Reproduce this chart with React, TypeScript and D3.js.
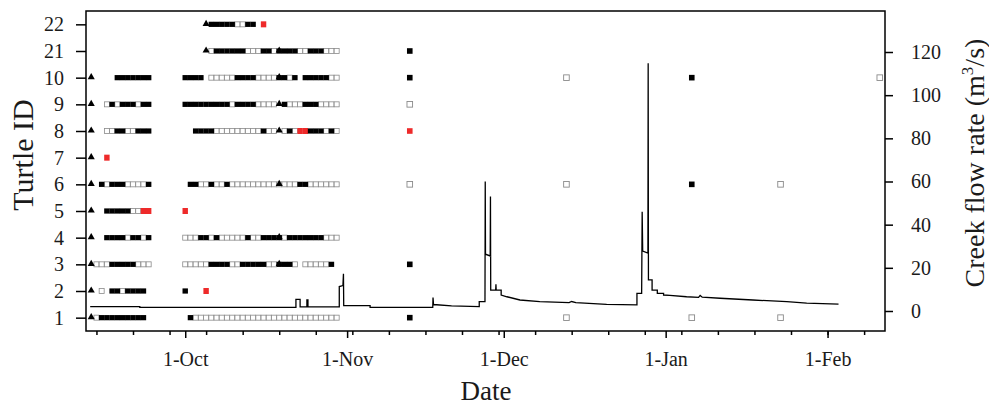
import React, { useEffect, useRef } from "react";
import * as d3 from "d3";

const startDate = new Date(2014, 8, 12);
const endDate = new Date(2015, 1, 12);

const turtleIds = ["1", "2", "3", "4", "5", "6", "7", "8", "9", "10", "21", "22"];

// daily detections 13-Sep .. 30-Oct, run-length coded ("9b" = nine days of b)
// b = detected (filled), o = not detected (open), r = red, . = no record
const dailyRuns = [
  "1. 1o 9b 8. 1b 28o",
  "2. 1o 1. 2b 1o 4b 7. 1b 3. 1r 25.",
  "1. 3o 5b 3o 6. 5o 4b 2o 5b 2o 1b 2b 1o 1. 5o 1b 1.",
  "3. 4b 1o 2b 1o 1b 6. 3o 2b 1o 1b 5o 1b 2o 3b 1b 1o 7b 3o",
  "3. 5b 2o 2r 6. 1r 29.",
  "2. 1b 1o 3b 4o 1b 7. 2b 2o 1b 2o 1b 9o 1o 3o 2b 6o",
  "3. 1r 44.",
  "3. 2o 2b 2o 3b 8. 4b 9o 1b 2o 1. 1o 1b 1o 2r 3b 1o 1b 1o",
  "3. 1o 1b 1o 3b 1o 2b 6. 9b 1o 4b 4o 1. 1b 3o 3b 4o",
  "5. 7b 6. 4b 1. 5o 4b 4o 1b 1b 1o 1b 1. 5b 2o",
  "23. 1o 6b 3o 2b 1o 1b 3b 2o 3b 3o",
  "23. 5b 2o 2b 1. 1r 14.",
];

// triangles: [turtle id, day offset from 12-Sep]
const triangleMarks: [string, number][] = [
  ["1", 1], ["2", 1], ["3", 1], ["4", 1], ["5", 1], ["6", 1], ["7", 1], ["8", 1], ["9", 1], ["10", 1],
  ["21", 23], ["22", 23],
  ["3", 37], ["4", 37], ["6", 37], ["8", 37], ["9", 37], ["10", 37], ["21", 37],
];

// later spot checks: [turtle id, day offset, kind]
const laterChecks: [string, number, string][] = [
  ["21", 62, "b"], ["10", 62, "b"], ["9", 62, "o"], ["8", 62, "r"], ["6", 62, "o"], ["3", 62, "b"], ["1", 62, "b"],
  ["10", 92, "o"], ["6", 92, "o"], ["1", 92, "o"],
  ["10", 116, "b"], ["6", 116, "b"], ["1", 116, "o"],
  ["6", 133, "o"], ["1", 133, "o"],
  ["10", 152, "o"],
];

// creek flow: [day offset from 12-Sep, m3/s]
const creekFlow: [number, number][] = [
  [0.8, 2.0], [10.3, 2.0], [10.3, 1.7], [40.2, 1.7], [40.2, 5.4], [41.0, 5.4], [41.0, 1.9],
  [42.3, 1.9], [42.3, 5.1], [42.5, 5.1], [42.5, 1.9], [48.5, 1.9], [48.5, 11.3], [49.2, 11.8],
  [49.3, 17.3], [49.35, 2.5], [54.4, 2.5], [54.4, 1.7], [66.4, 1.7], [66.45, 6.2], [66.55, 3.0],
  [70, 2.4], [75.3, 2.0], [75.3, 4.3], [76.4, 4.3], [76.45, 60], [76.5, 26.3], [77.4, 25.5],
  [77.45, 53], [77.5, 9.7], [78.45, 9.7], [78.5, 12.4], [78.55, 9.7], [79.5, 9.7], [79.5, 7.4],
  [80.6, 6.6], [83.1, 5.1], [86.9, 4.3], [92.5, 3.9], [93.0, 4.4], [93.8, 3.9], [99.7, 3.1],
  [105.5, 2.8], [105.5, 8.2], [106.4, 8.2], [106.5, 46], [106.6, 27.8], [107.6, 26.8],
  [107.65, 114.8], [107.7, 14.4], [108.4, 14.4], [108.4, 9.7], [109.4, 9.7], [109.4, 8.2],
  [110.6, 8.2], [110.6, 7.4], [111.8, 7.2], [115, 6.6], [117.3, 6.3], [117.6, 7.2], [118.0, 6.4],
  [121.4, 5.9], [127.7, 5.1], [134.2, 4.3], [138, 3.6], [144.1, 3.2],
];

const flowTicks = [0, 20, 40, 60, 80, 100, 120];

const W = 989;
const H = 407;
const margin = { top: 11, right: 104, bottom: 76, left: 86 };
const FONT = "'Liberation Serif', 'Times New Roman', serif";
const RED = "#ee2a2a";

const dayToDate = (d: number) => new Date(startDate.getTime() + d * 864e5);

// expand "3. 2o 4b" into ".. .oobbbb" style day list
function expandRuns(runs: string) {
  const out: string[] = [];
  runs.split(" ").forEach((r) => {
    const n = parseInt(r, 10);
    const c = r.slice(String(n).length);
    for (let k = 0; k < n; k++) out.push(c);
  });
  return out;
}

export default function App() {
  const svgRef = useRef<SVGSVGElement>(null);

  useEffect(() => {
    const svg = d3.select(svgRef.current);
    svg.selectAll("*").remove();

    const left = margin.left;
    const right = W - margin.right;
    const top = margin.top;
    const bottom = H - margin.bottom;

    const x = d3.scaleTime().domain([startDate, endDate]).range([left, right]);
    const yRow = d3.scaleLinear().domain([-0.5, turtleIds.length - 0.5]).range([bottom, top]);
    const yFlow = d3.scaleLinear().domain([-9.27, 139]).range([bottom, top]);
    const rowY = (id: string) => yRow(turtleIds.indexOf(id));

    const step = x(dayToDate(1)) - x(dayToDate(0));

    // flow line
    const line = d3
      .line<[number, number]>()
      .x((d) => x(dayToDate(d[0])))
      .y((d) => yFlow(d[1]));
    svg
      .append("path")
      .datum(creekFlow)
      .attr("d", line)
      .attr("fill", "none")
      .attr("stroke", "#000")
      .attr("stroke-width", 1.3);

    // daily squares
    const daily: { id: string; day: number; kind: string }[] = [];
    dailyRuns.forEach((p, i) => {
      expandRuns(p).forEach((c, j) => {
        if (c !== ".") daily.push({ id: turtleIds[i], day: j + 1, kind: c });
      });
    });

    const s = 5;
    svg
      .append("g")
      .selectAll("rect")
      .data(daily.filter((d) => d.kind === "o"))
      .join("rect")
      .attr("x", (d) => x(dayToDate(d.day)) - s / 2)
      .attr("y", (d) => rowY(d.id) - s / 2)
      .attr("width", s)
      .attr("height", s)
      .attr("fill", "#fff")
      .attr("stroke", "#8a8a8a")
      .attr("stroke-width", 0.8);

    svg
      .append("g")
      .selectAll("rect")
      .data(daily.filter((d) => d.kind !== "o"))
      .join("rect")
      .attr("x", (d) => x(dayToDate(d.day)) - step / 2 - 0.1)
      .attr("y", (d) => rowY(d.id) - (d.kind === "r" ? 3 : 2.6))
      .attr("width", step + 0.2)
      .attr("height", (d) => (d.kind === "r" ? 6 : 5.2))
      .attr("fill", (d) => (d.kind === "r" ? RED : "#000"));

    // later checks
    const ls = 5.6;
    svg
      .append("g")
      .selectAll("rect")
      .data(laterChecks)
      .join("rect")
      .attr("x", (d) => x(dayToDate(d[1])) - ls / 2)
      .attr("y", (d) => rowY(d[0]) - ls / 2)
      .attr("width", ls)
      .attr("height", ls)
      .attr("fill", (d) => (d[2] === "b" ? "#000" : d[2] === "r" ? RED : "#fff"))
      .attr("stroke", (d) => (d[2] === "o" ? "#8a8a8a" : "none"))
      .attr("stroke-width", 0.9);

    // triangles
    const tri = d3.symbol().type(d3.symbolTriangle).size(22);
    svg
      .append("g")
      .selectAll("path")
      .data(triangleMarks)
      .join("path")
      .attr("d", tri)
      .attr("transform", (d) => `translate(${x(dayToDate(d[1]))},${rowY(d[0]) - 0.5})`)
      .attr("fill", "#000");

    // frame
    svg
      .append("rect")
      .attr("x", left)
      .attr("y", top)
      .attr("width", right - left)
      .attr("height", bottom - top)
      .attr("fill", "none")
      .attr("stroke", "#000")
      .attr("stroke-width", 1.5);

    const styleAxis = (g: d3.Selection<SVGGElement, unknown, null, undefined>) => {
      g.select(".domain").remove();
      g.selectAll("line").attr("stroke", "#000").attr("stroke-width", 1.5);
      g.selectAll("text").attr("font-family", FONT).attr("font-size", 20).attr("fill", "#1a1a1a");
    };

    svg
      .append("g")
      .attr("transform", `translate(${left},0)`)
      .call(
        d3
          .axisLeft(yRow)
          .tickValues(d3.range(turtleIds.length))
          .tickFormat((i) => turtleIds[i as number])
          .tickSize(10)
          .tickPadding(12)
      )
      .call(styleAxis);

    svg
      .append("g")
      .attr("transform", `translate(${right},0)`)
      .call(d3.axisRight(yFlow).tickValues(flowTicks).tickSize(8).tickPadding(18))
      .call(styleAxis);

    const minorTicks = d3.timeDay.range(new Date(2014, 8, 14), endDate, 7);
    svg
      .append("g")
      .attr("transform", `translate(0,${bottom})`)
      .call(d3.axisBottom(x).tickValues(minorTicks).tickSize(4).tickFormat(() => ""))
      .call(styleAxis);

    const monthTicks = d3.timeMonth.range(new Date(2014, 9, 1), endDate);
    svg
      .append("g")
      .attr("transform", `translate(0,${bottom})`)
      .call(
        d3
          .axisBottom(x)
          .tickValues(monthTicks)
          .tickSize(7)
          .tickPadding(14)
          .tickFormat((d) => d3.timeFormat("%-d-%b")(d as Date))
      )
      .call(styleAxis);

    // titles
    svg
      .append("text")
      .attr("transform", `translate(33,155) rotate(-90)`)
      .attr("text-anchor", "middle")
      .attr("font-family", FONT)
      .attr("font-size", 30)
      .attr("fill", "#1a1a1a")
      .text("Turtle ID");

    svg
      .append("text")
      .attr("x", 486)
      .attr("y", 400)
      .attr("text-anchor", "middle")
      .attr("font-family", FONT)
      .attr("font-size", 27)
      .attr("fill", "#1a1a1a")
      .text("Date");

    const rt = svg
      .append("text")
      .attr("transform", `translate(984,163) rotate(-90)`)
      .attr("text-anchor", "middle")
      .attr("font-family", FONT)
      .attr("font-size", 28)
      .attr("fill", "#1a1a1a");
    rt.append("tspan").text("Creek flow rate (m");
    rt.append("tspan").attr("font-size", 17).attr("dy", -11).text("3");
    rt.append("tspan").attr("dy", 11).text("/s)");
  }, []);

  return (
    <svg
      ref={svgRef}
      width={W}
      height={H}
      style={{ position: "absolute", left: 0, top: 0, background: "#fff" }}
    />
  );
}
